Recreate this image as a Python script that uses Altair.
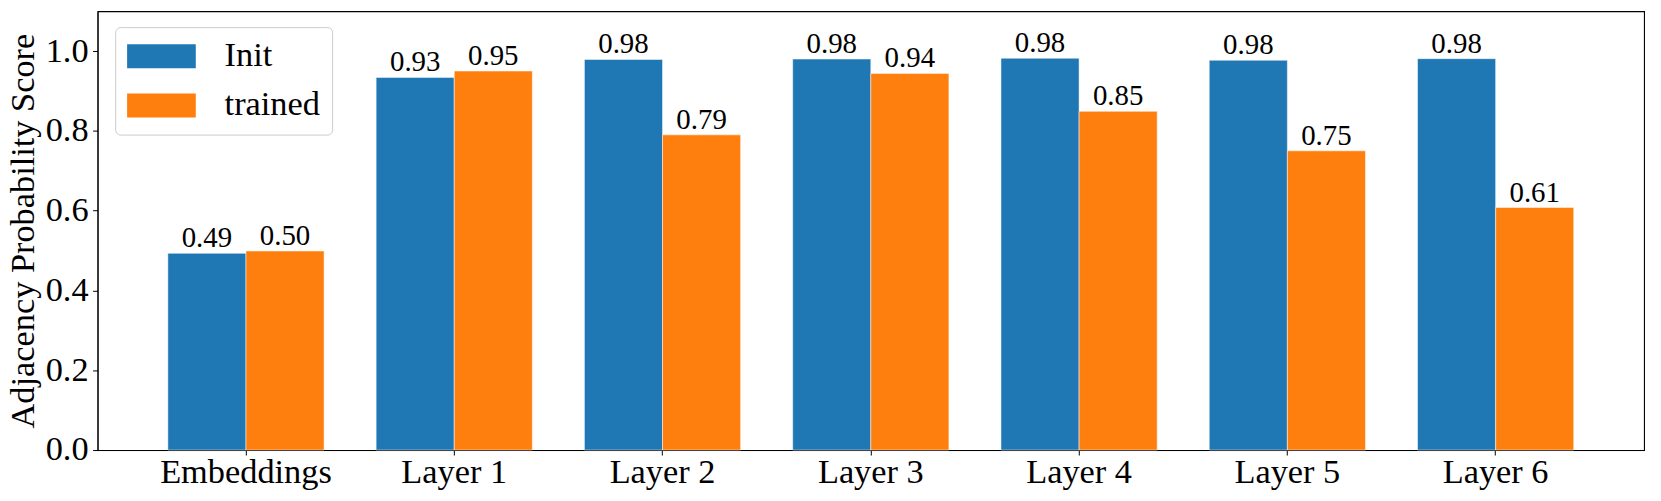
import altair as alt
import pandas as pd

categories = ["Embeddings", "Layer 1", "Layer 2", "Layer 3", "Layer 4", "Layer 5", "Layer 6"]
series = ["Init", "trained"]
init_values = [0.493, 0.934, 0.979, 0.980, 0.982, 0.977, 0.981]
trained_values = [0.499, 0.950, 0.790, 0.944, 0.849, 0.750, 0.608]
y_ticks = [0.0, 0.2, 0.4, 0.6, 0.8, 1.0]
colors = ["#1f77b4", "#ff7f0e"]

rows = []
for c, a, b in zip(categories, init_values, trained_values):
    rows.append({"layer": c, "model": series[0], "score": a})
    rows.append({"layer": c, "model": series[1], "score": b})
df = pd.DataFrame(rows)

FONT = "Liberation Serif"
FS = 34.5

x = alt.X(
    "layer:N", sort=categories, title=None,
    scale=alt.Scale(paddingInner=0.25, paddingOuter=0.3375),
    axis=alt.Axis(labelAngle=0, labelFont=FONT, labelFontSize=FS, labelColor="black",
                  tickSize=5, tickColor="black", domainColor="black", labelPadding=0.5),
)
xo = alt.XOffset("model:N", sort=series, scale=alt.Scale(paddingInner=0, paddingOuter=0))
y = alt.Y(
    "score:Q",
    scale=alt.Scale(domain=[0, 1.1], nice=False),
    axis=alt.Axis(values=y_ticks, format=".1f", title="Adjacency Probability Score",
                  labelFont=FONT, labelFontSize=FS, labelColor="black",
                  tickSize=5, tickColor="black", domainColor="black", labelPadding=4.5,
                  grid=False, titleFont=FONT, titleFontSize=FS, titleFontWeight="normal",
                  titleColor="black", titleX=-64, titleY=220.5, titleBaseline="alphabetic",
                  titleAngle=270),
)
color = alt.Color(
    "model:N", sort=series,
    scale=alt.Scale(domain=series, range=colors),
    legend=alt.Legend(
        title=None, orient="none", legendX=17.7, legendY=16,
        symbolType="M-2.875,-1L2.875,-1L2.875,1L-2.875,1Z", symbolSize=576,
        symbolOffset=17.25, symbolStrokeWidth=0, labelOffset=46.2,
        padding=12, rowPadding=14.5, labelFont=FONT, labelFontSize=FS,
        labelColor="black", strokeColor="#cccccc", cornerRadius=5,
        fillColor="rgba(255,255,255,0.8)",
    ),
)

bars = alt.Chart(df).mark_bar(stroke="white", strokeWidth=0.5).encode(
    x=x, xOffset=xo, y=y, color=color
)
labels = alt.Chart(df).mark_text(
    baseline="alphabetic", dy=-6, font=FONT, fontSize=29, color="black"
).encode(x=x, xOffset=xo, y=y, text=alt.Text("score:Q", format=".2f"))

chart = alt.layer(bars, labels).properties(
    width=1554, height=441,
    autosize=alt.AutoSizeParams(type="none"),
    padding={"left": 90, "top": 2, "right": 9, "bottom": 50},
    background="white",
).configure_view(stroke="black", strokeWidth=1.1)

chart.save("out.html", embed_options={"renderer": "svg", "actions": False})
